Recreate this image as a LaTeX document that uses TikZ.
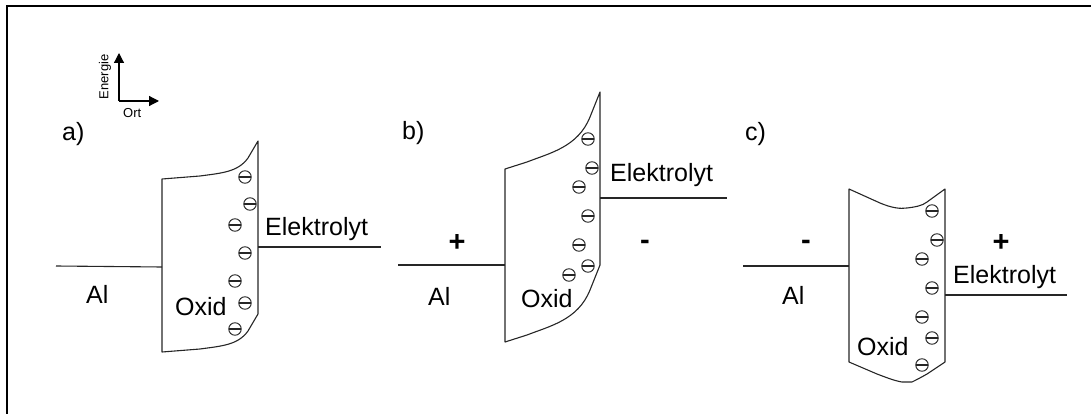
\documentclass[tikz,border=0pt]{standalone}
\usepackage{fontspec}
\setmainfont{Liberation Sans}
\usetikzlibrary{arrows.meta}
\tikzset{
  line/.style={draw=black!85,line width=1.1pt},
  charge/.style={circle,draw=black!85,line width=0.95pt,fill=white,inner sep=0pt,minimum size=12.5pt,
    path picture={\draw[black!85,line width=1.3pt] (path picture bounding box.west) -- (path picture bounding box.east);}},
  big/.style={inner sep=0pt,anchor=base west,font=\fontsize{25}{25}\selectfont},
  sign/.style={inner sep=0pt,anchor=base,font=\fontsize{29}{29}\selectfont\bfseries},
  small/.style={inner sep=0pt,font=\fontsize{13}{13}\selectfont},
  axis/.style={line width=1.2pt,-{Triangle[length=10pt,width=10pt]}}
}
\begin{document}
\begin{tikzpicture}[x=1pt,y=-1pt]
\useasboundingbox (0,0) rectangle (1091,414);
\draw[line width=1.6pt] (7,414) -- (7,6) -- (1091,6);
% axes
\coordinate (o) at (119,101);
\coordinate (e) at (119,53);
\coordinate (r) at (159,101);
\draw[axis] (o) -- (e);
\draw[axis] (o) -- (r);
\node[small,rotate=90] (en) at (105,77) {Energie};
\node[small,anchor=base west] (ort) at (123,118) {Ort};
% panel a
\coordinate (a1) at (162,179); \coordinate (a2) at (258,141);
\coordinate (a3) at (258,314); \coordinate (a4) at (162,352);
\draw[line,line join=round] (a1) -- (200,176) .. controls (222,173) and (238,172) .. (248,158) -- (a2) -- (a3)
  -- (248,331) .. controls (238,345) and (222,346) .. (200,349) -- (a4) -- cycle;
\coordinate (al1) at (56,266); \coordinate (al2) at (162,267);
\coordinate (el1) at (258,247); \coordinate (el2) at (381,247);
\draw[line] (al1) -- (al2);
\draw[line] (el1) -- (el2);
\foreach \n/\x/\y in {1/245/177,2/250/204,3/235/225,4/245/253,5/235/281,6/245/303,7/235/329}
  \node[charge] (ca\n) at (\x,\y) {};
\node[big] (la) at (62,141) {a)};
\node[big] (ala) at (86,303) {Al};
\node[big] (oxa) at (175,315) {Oxid};
\node[big] (ela) at (265,235) {Elektrolyt};
% panel b
\coordinate (b1) at (505,169); \coordinate (b2) at (600,92);
\coordinate (b3) at (600,265); \coordinate (b4) at (505,342);
\draw[line,line join=round] (b1) -- (527,162) .. controls (550,153) and (578,147) .. (590,117) -- (b2) -- (b3)
  -- (590,290) .. controls (578,320) and (550,326) .. (527,335) -- (b4) -- cycle;
\coordinate (alb1) at (398,265); \coordinate (alb2) at (505,265);
\coordinate (elb1) at (600,198); \coordinate (elb2) at (727,198);
\draw[line] (alb1) -- (alb2);
\draw[line] (elb1) -- (elb2);
\foreach \n/\x/\y in {1/588/139,2/592/168,3/579/187,4/588/216,5/579/245,6/588/266,7/569/275}
  \node[charge] (cb\n) at (\x,\y) {};
\node[big] (lb) at (402,140) {b)};
\node[big] (alb) at (428,305) {Al};
\node[big] (oxb) at (521,307) {Oxid};
\node[big] (elb) at (610,182) {Elektrolyt};
\node[sign] (pb) at (457,251) {+};
\node[sign] (mb) at (645,249) {-};
% panel c
\coordinate (c1) at (849,189); \coordinate (c2) at (945,189);
\coordinate (c3) at (945,362); \coordinate (c4) at (849,362);
\draw[line,line join=round] (c1) -- (880,203) .. controls (892,208) and (900,209) .. (907,208)
  .. controls (915,207) and (922,206) .. (927,202) -- (c2) -- (c3)
  -- (927,374) .. controls (920,378) and (916,380) .. (912,382) -- (902,382)
  .. controls (895,381) and (885,377) .. (877,374) -- (c4) -- cycle;
\coordinate (alc1) at (743,266); \coordinate (alc2) at (849,266);
\coordinate (elc1) at (945,295); \coordinate (elc2) at (1067,295);
\draw[line] (alc1) -- (alc2);
\draw[line] (elc1) -- (elc2);
\foreach \n/\x/\y in {1/932/211,2/937/240,3/922/259,4/932/288,5/922/317,6/932/338,7/922/365}
  \node[charge] (cc\n) at (\x,\y) {};
\node[big] (lc) at (745,141) {c)};
\node[big] (alc) at (782,304) {Al};
\node[big] (oxc) at (857,355) {Oxid};
\node[big] (elc) at (953,283) {Elektrolyt};
\node[sign] (mc) at (806,249) {-};
\node[sign] (pc) at (1001,251) {+};
\end{tikzpicture}
\end{document}
